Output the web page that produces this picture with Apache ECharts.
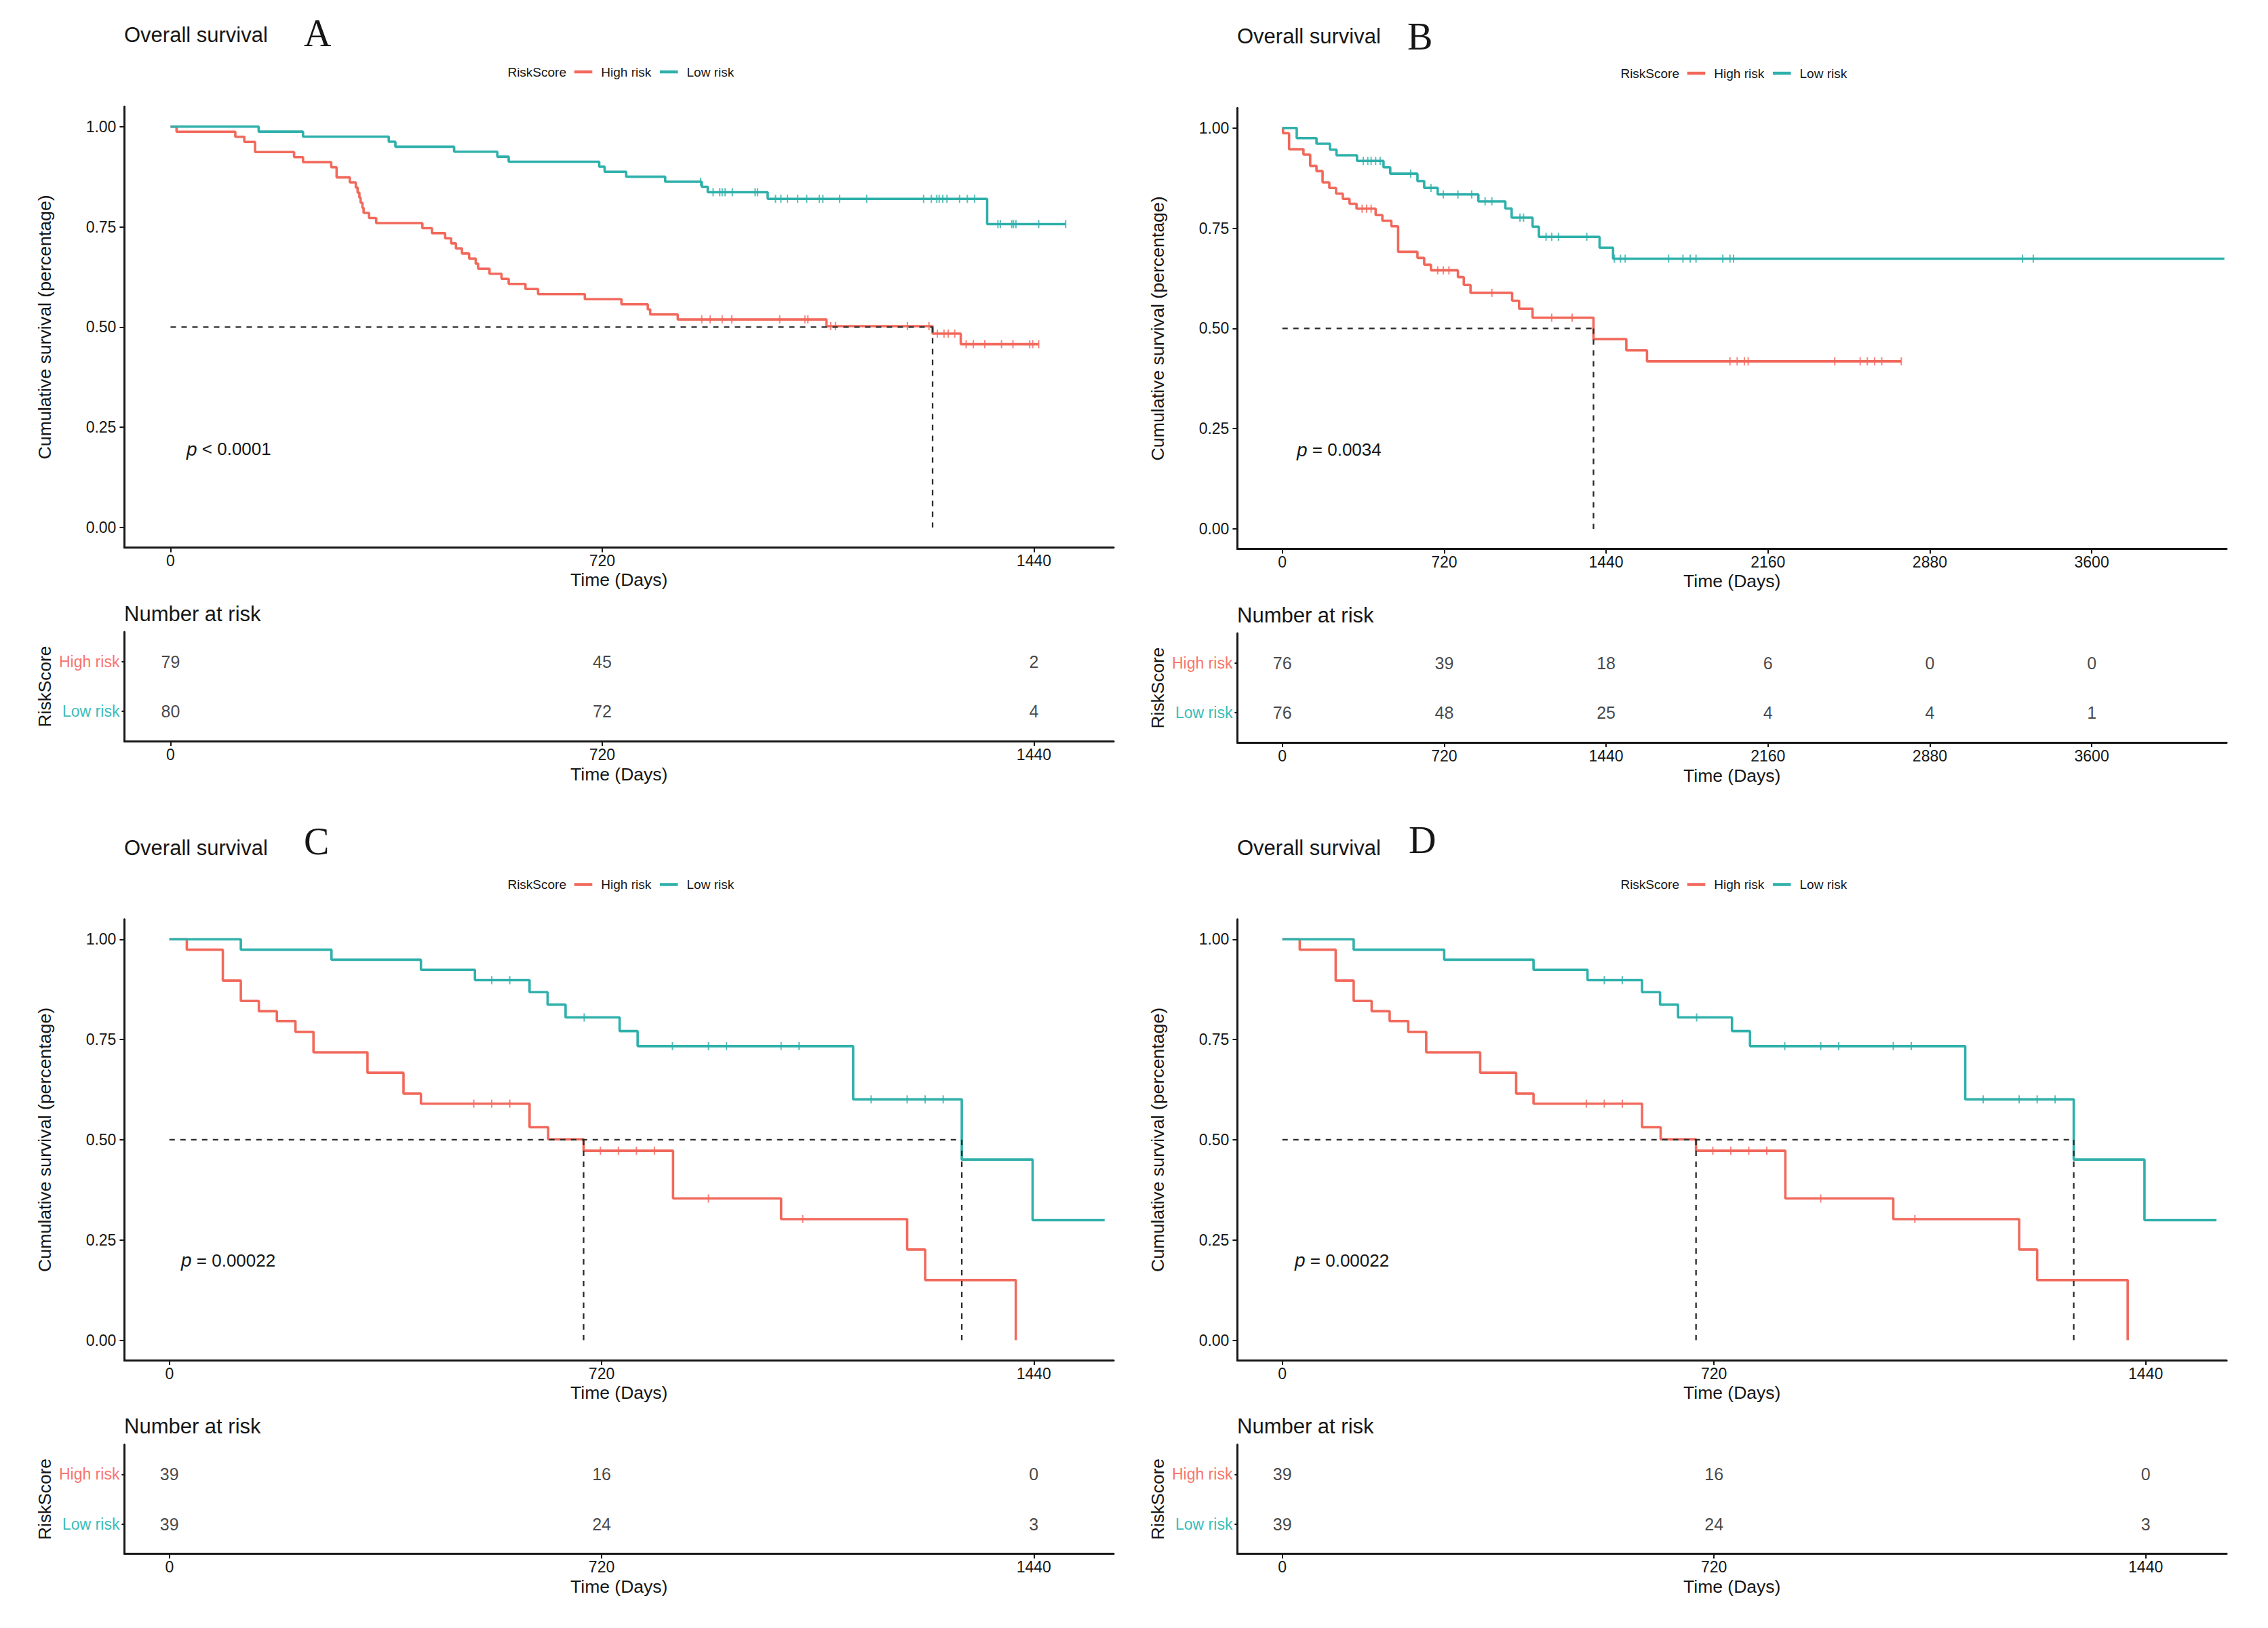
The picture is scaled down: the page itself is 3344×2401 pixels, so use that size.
<!DOCTYPE html>
<html>
<head>
<meta charset="utf-8">
<script src="https://cdn.jsdelivr.net/npm/echarts@6/dist/echarts.min.js"></script>
<style>html,body{margin:0;padding:0;background:#fff}#c{width:3344px;height:2401px}</style>
</head>
<body>
<div id="c"></div>
<script>
// ---------------- data ----------------
const riskGroups = ['High risk', 'Low risk'];
const timeTicksShort = [0, 720, 1440];
const timeTicksLong = [0, 720, 1440, 2160, 2880, 3600];
const survTicks = [0, 0.25, 0.5, 0.75, 1];

// Panel A
const aHighTime = [0,10,108,123,141,206,221,268,277,299,309,312,315,317,320,322,331,343,420,436,458,468,476,486,498,509,513,532,552,564,592,613,691,752,796,800,846,1094,1271,1318,1448];
const aHighSurv = [1,0.9873,0.9747,0.962,0.9367,0.924,0.9114,0.8987,0.8734,0.8608,0.8481,0.8354,0.8228,0.8101,0.7975,0.7848,0.7722,0.7595,0.7468,0.7342,0.7215,0.7089,0.6962,0.6835,0.6709,0.6582,0.6456,0.6329,0.6203,0.6076,0.5949,0.5823,0.5696,0.557,0.5443,0.5316,0.519,0.5024,0.4838,0.4574,0.4574];
const aHighCens = [886,900,920,936,1016,1058,1063,1101,1109,1229,1265,1279,1290,1297,1308,1327,1339,1358,1386,1405,1433,1438,1448];
const aLowTime = [0,147,221,364,375,473,545,564,715,724,760,825,886,896,996,1362,1493];
const aLowSurv = [1,0.9875,0.975,0.9625,0.95,0.9375,0.925,0.9125,0.9,0.8875,0.875,0.8625,0.85,0.8365,0.82,0.757,0.757];
const aLowCens = [884,905,916,920,925,937,975,979,1009,1018,1029,1046,1061,1082,1088,1116,1161,1256,1269,1278,1282,1288,1295,1316,1329,1341,1380,1384,1403,1406,1410,1448,1493];
const aMedians = [1271];
const aPValue = '< 0.0001';
const aRiskHigh = [79, 45, 2];
const aRiskLow = [80, 72, 4];

// Panel B
const bHighTime = [0,3,30,94,124,152,179,209,239,269,299,330,415,445,485,515,601,631,661,781,807,837,1022,1053,1113,1384,1530,1622,2753];
const bHighSurv = [1,0.9868,0.947,0.9336,0.9055,0.8925,0.8644,0.8504,0.8363,0.8233,0.811,0.7987,0.7828,0.7688,0.7548,0.6911,0.676,0.6591,0.645,0.6281,0.6085,0.5888,0.5691,0.5494,0.5268,0.4734,0.4453,0.418,0.418];
const bHighCens = [355,375,395,691,716,741,932,1198,1289,1991,2023,2055,2072,2457,2570,2602,2634,2666,2753];
const bLowTime = [0,64,152,212,241,332,450,480,601,631,691,872,992,1020,1113,1141,1411,1471,4190];
const bLowSurv = [1,0.9747,0.9606,0.946,0.932,0.918,0.902,0.886,0.8675,0.8506,0.8343,0.817,0.7991,0.7764,0.754,0.7286,0.7016,0.674,0.674];
const bLowCens = [360,380,395,415,435,571,661,716,781,842,902,932,1057,1073,1173,1198,1228,1354,1477,1504,1525,1718,1782,1814,1840,1959,1991,2007,3292,3340];
const bMedians = [1384];
const bPValue = '= 0.0034';
const bRiskHigh = [76, 39, 18, 6, 0, 0];
const bRiskLow = [76, 48, 25, 4, 4, 1];

// Panels C and D (same data)
const cHighTime = [0,29,89,119,149,179,210,240,330,390,419,600,631,690,839,1019,1229,1259,1410];
const cHighSurv = [1,0.974,0.897,0.846,0.8205,0.796,0.769,0.718,0.667,0.615,0.59,0.531,0.501,0.4725,0.3535,0.302,0.226,0.15,0];
const cHighCens = [507,537,567,718,748,778,808,898,1055];
const cLowTime = [0,119,270,419,509,600,630,660,750,780,1139,1320,1438,1558];
const cLowSurv = [1,0.974,0.949,0.924,0.898,0.868,0.837,0.805,0.771,0.7335,0.6007,0.4505,0.2995,0.2995];
const cLowCens = [537,567,691,838,898,928,1019,1049,1169,1229,1259,1289];
const cMedians = [690, 1320];
const cPValue = '= 0.00022';
const cRiskHigh = [39, 16, 0];
const cRiskLow = [39, 24, 3];

// ---------------- styling / layout ----------------
const FONT = 'Liberation Sans, Arial, Helvetica, sans-serif';
const SERIF = 'Liberation Serif, Times New Roman, serif';
const RED = '#F1695C', TEAL = '#2FB0AB';
const RED_L = '#F8766D', TEAL_L = '#3CBDB8';
const INK = '#161616';

const panels = [
  {ox:0,    oy:0,      letter:'A', lx:448, ly:49,  xMin:-77,  xMax:1573, ticks:timeTicksShort,
   hT:aHighTime, hS:aHighSurv, hC:aHighCens, lT:aLowTime, lS:aLowSurv, lC:aLowCens, med:aMedians, p:aPValue, px:275, py:662, rH:aRiskHigh, rL:aRiskLow},
  {ox:1641, oy:2,      letter:'B', lx:434, ly:52,  xMin:-200, xMax:4200, ticks:timeTicksLong,
   hT:bHighTime, hS:bHighSurv, hC:bHighCens, lT:bLowTime, lS:bLowSurv, lC:bLowCens, med:bMedians, p:bPValue, px:271, py:661, rH:bRiskHigh, rL:bRiskLow},
  {ox:0,    oy:1198.5, letter:'C', lx:448, ly:42,  xMin:-75,  xMax:1573, ticks:timeTicksShort,
   hT:cHighTime, hS:cHighSurv, hC:cHighCens, lT:cLowTime, lS:cLowSurv, lC:cLowCens, med:cMedians, p:cPValue, px:267, py:660, rH:cRiskHigh, rL:cRiskLow},
  {ox:1641, oy:1198.5, letter:'D', lx:436, ly:40,  xMin:-75,  xMax:1575, ticks:timeTicksShort,
   hT:cHighTime, hS:cHighSurv, hC:cHighCens, lT:cLowTime, lS:cLowSurv, lC:cLowCens, med:cMedians, p:cPValue, px:268, py:660, rH:cRiskHigh, rL:cRiskLow}
];

function survAt(T, S, t) {
  let v = S[0];
  for (let i = 0; i < T.length; i++) { if (T[i] <= t) v = S[i]; }
  return v;
}

const axisLine = {show:true, onZero:false, lineStyle:{color:INK, width:3}};
const axisTick = {show:true, length:7, lineStyle:{color:INK, width:2}};
const labelBase = {fontFamily:FONT, fontSize:23, color:INK};
const plainNum = v => String(Math.round(v));

const grid = [], xAxis = [], yAxis = [], series = [], legend = [], graphic = [];

panels.forEach((p, i) => {
  const gK = 2 * i, gT = 2 * i + 1;
  grid.push({left:p.ox + 183.4, top:p.oy + 157.2, width:1458.6, height:650.4});
  grid.push({left:p.ox + 183.4, top:p.oy + 932, width:1458.6, height:161});

  xAxis.push({type:'value', gridIndex:gK, min:p.xMin, max:p.xMax, splitLine:{show:false},
    axisLine, axisTick:Object.assign({customValues:p.ticks}, axisTick),
    axisLabel:Object.assign({customValues:p.ticks, margin:8, formatter:plainNum}, labelBase),
    name:'Time (Days)', nameLocation:'middle', nameGap:34,
    nameTextStyle:{fontFamily:FONT, fontSize:26.5, color:INK}});
  xAxis.push({type:'value', gridIndex:gT, min:p.xMin, max:p.xMax, splitLine:{show:false},
    axisLine, axisTick:Object.assign({customValues:p.ticks}, axisTick),
    axisLabel:Object.assign({customValues:p.ticks, margin:8, formatter:plainNum}, labelBase),
    name:'Time (Days)', nameLocation:'middle', nameGap:35,
    nameTextStyle:{fontFamily:FONT, fontSize:26.5, color:INK}});

  yAxis.push({type:'value', gridIndex:gK, min:-0.05, max:1.05, splitLine:{show:false},
    axisLine, axisTick:Object.assign({customValues:survTicks}, axisTick),
    axisLabel:Object.assign({customValues:survTicks, margin:12, formatter:v => v.toFixed(2)}, labelBase),
    name:'Cumulative survival (percentage)', nameLocation:'middle', nameGap:104, nameRotate:90,
    nameTextStyle:{fontFamily:FONT, fontSize:26.7, color:INK}});
  yAxis.push({type:'value', gridIndex:gT, min:0.4, max:2.6, splitLine:{show:false},
    axisLine, axisTick:{show:true, length:4, lineStyle:{color:INK, width:2}, customValues:[1, 2]},
    axisLabel:{customValues:[1, 2], margin:7, fontFamily:FONT, fontSize:23,
      formatter:v => Math.round(v) === 2 ? '{h|' + riskGroups[0] + '}' : '{l|' + riskGroups[1] + '}',
      rich:{h:{color:RED_L, fontFamily:FONT, fontSize:23}, l:{color:TEAL_L, fontFamily:FONT, fontSize:23}}},
    name:'RiskScore', nameLocation:'middle', nameGap:104, nameRotate:90,
    nameTextStyle:{fontFamily:FONT, fontSize:26.3, color:INK}});

  // survival curves
  [[p.hT, p.hS, p.hC, RED, riskGroups[0]], [p.lT, p.lS, p.lC, TEAL, riskGroups[1]]].forEach(([T, S, C, col, nm]) => {
    series.push({type:'line', name:nm, xAxisIndex:gK, yAxisIndex:gK, step:'end', symbol:'none', showSymbol:false,
      lineStyle:{color:col, width:3.6}, itemStyle:{color:col}, z:3,
      data:T.map((t, k) => [t, S[k]])});
    series.push({type:'scatter', xAxisIndex:gK, yAxisIndex:gK, symbol:'rect', symbolSize:[2, 12],
      itemStyle:{color:col}, z:4, data:C.map(t => [t, survAt(T, S, t)])});
  });

  // median dashed lines
  const mMax = Math.max(...p.med);
  const dash = {color:'#2a2a2a', width:2.3, type:[8, 8]};
  series.push({type:'line', xAxisIndex:gK, yAxisIndex:gK, symbol:'none', lineStyle:dash, z:5,
    data:[[0, 0.5], [mMax, 0.5]]});
  p.med.forEach(m => {
    series.push({type:'line', xAxisIndex:gK, yAxisIndex:gK, symbol:'none', lineStyle:dash, z:5,
      data:[[m, 0.5], [m, 0]]});
  });

  // risk table numbers
  const tableData = [];
  p.ticks.forEach((t, k) => { tableData.push([t, 2, p.rH[k]]); tableData.push([t, 1, p.rL[k]]); });
  series.push({type:'scatter', xAxisIndex:gT, yAxisIndex:gT, symbolSize:1, itemStyle:{color:'rgba(0,0,0,0)'},
    label:{show:true, position:'inside', formatter:q => String(q.value[2]), fontFamily:FONT, fontSize:25, color:INK},
    data:tableData});

  legend.push({data:riskGroups, left:p.ox + 846.7, top:p.oy + 96, orient:'horizontal', icon:'rect',
    itemWidth:26.6, itemHeight:4.5, itemGap:12.7, padding:0, selectedMode:false,
    textStyle:{fontFamily:FONT, fontSize:19, color:INK, padding:[0, 0, 0, 8], lineHeight:20}});

  graphic.push({type:'text', x:p.ox + 183, y:p.oy + 51.5,
    style:{text:'Overall survival', fontFamily:FONT, fontSize:31, fill:INK, align:'left', verticalAlign:'middle'}});
  graphic.push({type:'text', x:p.ox + p.lx, y:p.oy + p.ly,
    style:{text:p.letter, fontFamily:SERIF, fontSize:56, fill:INK, align:'left', verticalAlign:'middle'}});
  graphic.push({type:'text', x:p.ox + 835, y:p.oy + 106,
    style:{text:'RiskScore', fontFamily:FONT, fontSize:19, fill:INK, align:'right', verticalAlign:'middle'}});
  graphic.push({type:'text', x:p.ox + 183, y:p.oy + 905,
    style:{text:'Number at risk', fontFamily:FONT, fontSize:31, fill:INK, align:'left', verticalAlign:'middle'}});
  graphic.push({type:'text', x:p.ox + p.px, y:p.oy + p.py,
    style:{text:'{i|p} ' + p.p, fontFamily:FONT, fontSize:26, fill:INK, align:'left', verticalAlign:'middle',
      rich:{i:{fontFamily:FONT, fontStyle:'italic', fontSize:28, fill:INK}}}});
});

const chart = echarts.init(document.getElementById('c'), null, {renderer:'svg', width:3344, height:2401});
chart.setOption({
  backgroundColor:'#ffffff',
  animation:false,
  grid, xAxis, yAxis, series, legend, graphic
});
</script>
</body>
</html>
